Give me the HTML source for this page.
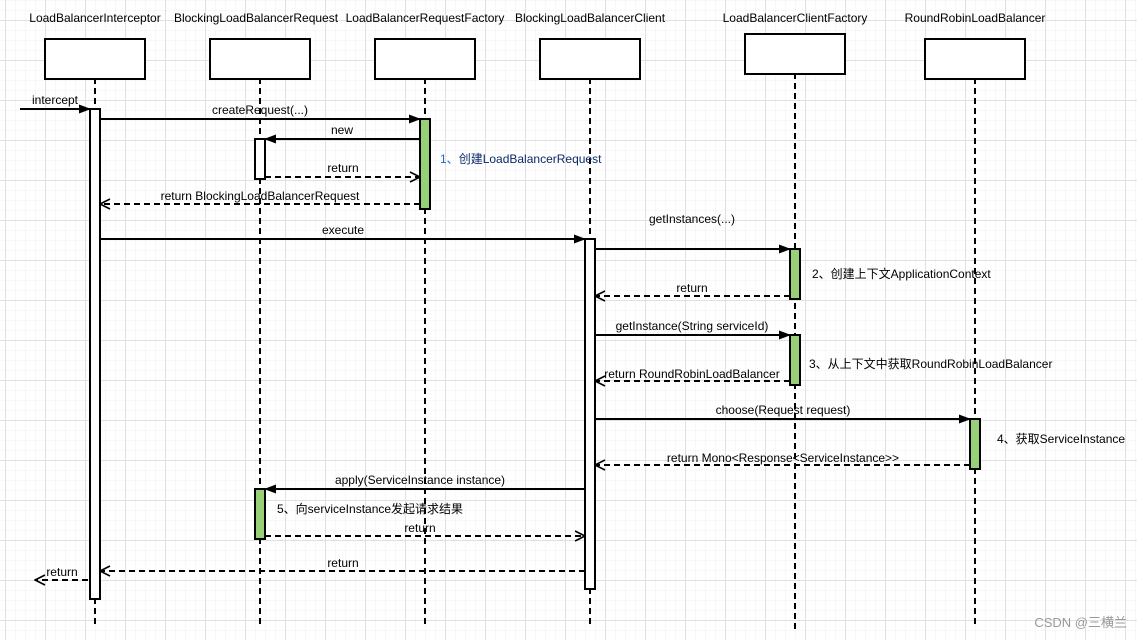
<!DOCTYPE html>
<html><head><meta charset="utf-8"><style>
html,body{margin:0;padding:0;background:#fff}
svg{display:block}
text{font-family:"Liberation Sans","Noto Sans CJK SC",sans-serif;font-size:12px;fill:#000}
</style></head><body>
<svg width="1137" height="640" viewBox="0 0 1137 640" xmlns="http://www.w3.org/2000/svg">
<defs>
<pattern id="minor" width="10" height="10" patternUnits="userSpaceOnUse" x="5" y="0">
<path d="M0 0H10M0 0V10" stroke="#f0f0f0" stroke-width="1" fill="none"/>
</pattern>
<pattern id="major" width="40" height="40" patternUnits="userSpaceOnUse" x="5" y="20">
<path d="M0 0.5H40M0.5 0V40" stroke="#e0e0e0" stroke-width="1" fill="none"/>
</pattern>
<marker id="fa" markerWidth="12" markerHeight="12" refX="11" refY="6" orient="auto" markerUnits="userSpaceOnUse"><path d="M0 1.5L12 6L0 10.5Z" fill="#000"/></marker>
<marker id="oa" markerWidth="12" markerHeight="12" refX="11" refY="6" orient="auto" markerUnits="userSpaceOnUse"><path d="M1 1L11 6L1 11" fill="none" stroke="#000" stroke-width="1.6"/></marker>
</defs>
<rect width="1137" height="640" fill="url(#minor)"/>
<rect width="1137" height="640" fill="url(#major)"/>

<g stroke="#000" stroke-width="2" stroke-dasharray="6,4" fill="none">
<path d="M95 78V625M260 78V625M425 78V625M590 78V625M795 73V630M975 78V625"/>
</g>
<g fill="#fff" stroke="#000" stroke-width="2">
<rect x="45" y="39" width="100" height="40"/>
<rect x="210" y="39" width="100" height="40"/>
<rect x="375" y="39" width="100" height="40"/>
<rect x="540" y="39" width="100" height="40"/>
<rect x="745" y="34" width="100" height="40"/>
<rect x="925" y="39" width="100" height="40"/>
</g>
<g text-anchor="middle">
<text x="95" y="22">LoadBalancerInterceptor</text>
<text x="256" y="22">BlockingLoadBalancerRequest</text>
<text x="425" y="22">LoadBalancerRequestFactory</text>
<text x="590" y="22">BlockingLoadBalancerClient</text>
<text x="795" y="22">LoadBalancerClientFactory</text>
<text x="975" y="22">RoundRobinLoadBalancer</text>
</g>

<g stroke="#000" stroke-width="2">
<rect x="90" y="109" width="10" height="490" fill="#fff"/>
<rect x="585" y="239" width="10" height="350" fill="#fff"/>
<rect x="255" y="139" width="10" height="40" fill="#fff"/>
<rect x="420" y="119" width="10" height="90" fill="#97d077"/>
<rect x="790" y="249" width="10" height="50" fill="#97d077"/>
<rect x="790" y="335" width="10" height="50" fill="#97d077"/>
<rect x="970" y="419" width="10" height="50" fill="#97d077"/>
<rect x="255" y="489" width="10" height="50" fill="#97d077"/>
</g>

<g stroke="#000" stroke-width="2" fill="none">
<path d="M20 109H90" marker-end="url(#fa)"/>
<path d="M100 119H420" marker-end="url(#fa)"/>
<path d="M420 139H265" marker-end="url(#fa)"/>
<path d="M100 239H585" marker-end="url(#fa)"/>
<path d="M595 249H790" marker-end="url(#fa)"/>
<path d="M595 335H790" marker-end="url(#fa)"/>
<path d="M595 419H970" marker-end="url(#fa)"/>
<path d="M585 489H265" marker-end="url(#fa)"/>
</g>
<g stroke="#000" stroke-width="2" fill="none" stroke-dasharray="6,4">
<path d="M265 177H420" marker-end="url(#oa)"/>
<path d="M420 204H100" marker-end="url(#oa)"/>
<path d="M790 296H595" marker-end="url(#oa)"/>
<path d="M790 381H595" marker-end="url(#oa)"/>
<path d="M970 465H595" marker-end="url(#oa)"/>
<path d="M265 536H585" marker-end="url(#oa)"/>
<path d="M585 571H100" marker-end="url(#oa)"/>
<path d="M88 580H35" marker-end="url(#oa)"/>
</g>

<g text-anchor="middle">
<text x="55" y="104">intercept</text>
<text x="260" y="114">createRequest(...)</text>
<text x="342" y="134">new</text>
<text x="343" y="172">return</text>
<text x="260" y="200">return BlockingLoadBalancerRequest</text>
<text x="343" y="234">execute</text>
<text x="692" y="223">getInstances(...)</text>
<text x="692" y="292">return</text>
<text x="692" y="330">getInstance(String serviceId)</text>
<text x="692" y="378">return RoundRobinLoadBalancer</text>
<text x="783" y="414">choose(Request request)</text>
<text x="783" y="462">return Mono&lt;Response&lt;ServiceInstance&gt;&gt;</text>
<text x="420" y="484">apply(ServiceInstance instance)</text>
<text x="420" y="532">return</text>
<text x="343" y="567">return</text>
<text x="62" y="576">return</text>
</g>
<g>
<text x="440" y="163" style="fill:#0a2a6a"><tspan style="fill:#1a6ad0">1、</tspan>创建LoadBalancerRequest</text>
<text x="812" y="278">2、创建上下文ApplicationContext</text>
<text x="809" y="368">3、从上下文中获取RoundRobinLoadBalancer</text>
<text x="997" y="443">4、获取ServiceInstance</text>
<text x="277" y="513">5、向serviceInstance发起请求结果</text>
</g>
<text x="1127" y="627" text-anchor="end" style="fill:#999;font-size:13px">CSDN @三横兰</text>
</svg>
</body></html>
